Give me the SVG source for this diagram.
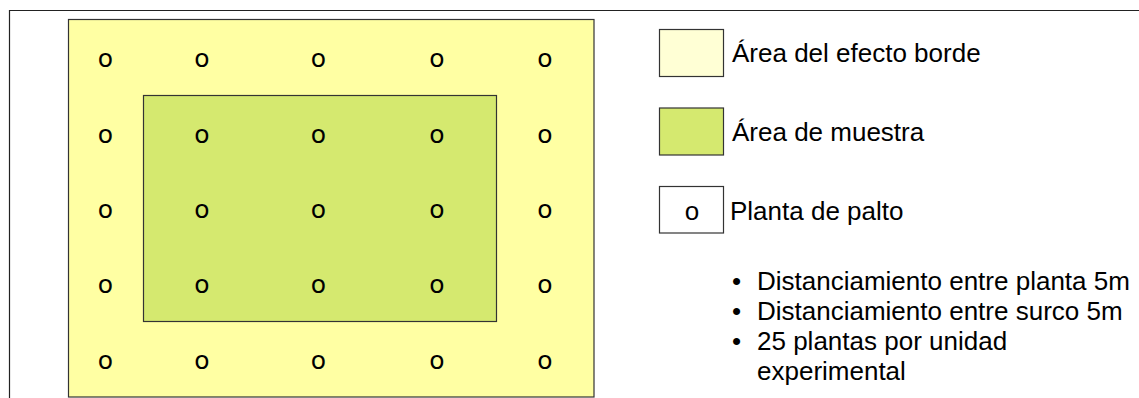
<svg xmlns="http://www.w3.org/2000/svg" width="1139" height="398" viewBox="0 0 1139 398">
  <style>
    .frame { stroke: #222; stroke-width: 1.2; fill: none; }
    .box { stroke: #333; stroke-width: 1.2; }
    .plant { font-family: "DejaVu Sans", sans-serif; font-size: 25px; fill: #000; text-anchor: middle; }
    .lbl { font-family: "Liberation Sans", Arial, sans-serif; font-size: 26px; fill: #000; }
  </style>
  <rect width="1139" height="398" fill="#fff"/>
  <g id="frame">
    <line class="frame" x1="9" y1="10.5" x2="1139" y2="10.5"/>
    <line class="frame" x1="9.5" y1="10" x2="9.5" y2="398"/>
  </g>
  <g id="border-area">
    <rect class="box" x="68.5" y="19.5" width="525.5" height="377.5" fill="#FFFFA3"/>
  </g>
  <g id="sample-area">
    <rect class="box" x="143.5" y="95.5" width="353" height="226" fill="#D5E96F"/>
  </g>
  <g id="plants">
    <text class="plant" x="105.5" y="67">o</text>
    <text class="plant" x="202" y="67">o</text>
    <text class="plant" x="318.5" y="67">o</text>
    <text class="plant" x="437" y="67">o</text>
    <text class="plant" x="545" y="67">o</text>
    <text class="plant" x="105.5" y="142.5">o</text>
    <text class="plant" x="202" y="142.5">o</text>
    <text class="plant" x="318.5" y="142.5">o</text>
    <text class="plant" x="437" y="142.5">o</text>
    <text class="plant" x="545" y="142.5">o</text>
    <text class="plant" x="105.5" y="217.5">o</text>
    <text class="plant" x="202" y="217.5">o</text>
    <text class="plant" x="318.5" y="217.5">o</text>
    <text class="plant" x="437" y="217.5">o</text>
    <text class="plant" x="545" y="217.5">o</text>
    <text class="plant" x="105.5" y="293">o</text>
    <text class="plant" x="202" y="293">o</text>
    <text class="plant" x="318.5" y="293">o</text>
    <text class="plant" x="437" y="293">o</text>
    <text class="plant" x="545" y="293">o</text>
    <text class="plant" x="105.5" y="369">o</text>
    <text class="plant" x="202" y="369">o</text>
    <text class="plant" x="318.5" y="369">o</text>
    <text class="plant" x="437" y="369">o</text>
    <text class="plant" x="545" y="369">o</text>
  </g>
  <g id="legend-border">
    <rect class="box" x="659.5" y="29.5" width="64" height="47" fill="#FFFFD5"/>
    <text class="lbl" x="732" y="62">Área del efecto borde</text>
  </g>
  <g id="legend-sample">
    <rect class="box" x="659.5" y="108" width="64" height="47" fill="#D5E96F"/>
    <text class="lbl" x="732" y="141">Área de muestra</text>
  </g>
  <g id="legend-plant">
    <rect class="box" x="659.5" y="186.5" width="64" height="46.5" fill="#FFFFFF"/>
    <text class="lbl" x="692" y="220" text-anchor="middle">o</text>
    <text class="lbl" x="730" y="220">Planta de palto</text>
  </g>
  <g id="notes">
    <text class="lbl" x="732" y="290">•</text>
    <text class="lbl" x="757" y="290">Distanciamiento entre planta 5m</text>
    <text class="lbl" x="732" y="320">•</text>
    <text class="lbl" x="757" y="320">Distanciamiento entre surco 5m</text>
    <text class="lbl" x="732" y="350">•</text>
    <text class="lbl" x="757" y="350">25 plantas por unidad</text>
    <text class="lbl" x="757" y="380">experimental</text>
  </g>
</svg>
